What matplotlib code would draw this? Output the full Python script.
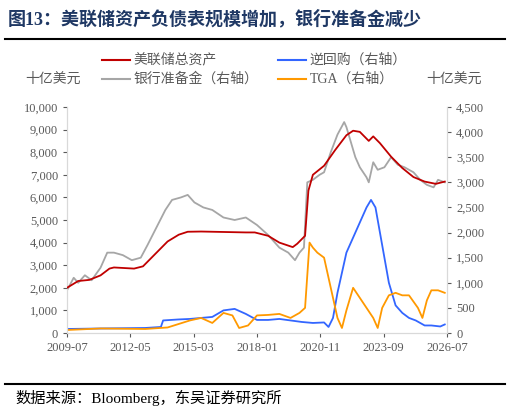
import matplotlib
matplotlib.use("Agg")
import matplotlib.pyplot as plt
from matplotlib.lines import Line2D

plt.rcParams['font.family'] = ['Liberation Serif', 'Noto Sans CJK SC']

# decimal years
fed_t = [2009.5,2010.0,2010.5,2011.0,2011.4,2011.6,2012.5,2012.9,2013.3,2013.7,2014.0,2014.5,2014.9,2015.5,2016.5,2017.5,2017.9,2018.5,2019.0,2019.6,2019.8,2020.0,2020.15,2020.3,2020.5,2021.0,2021.5,2022.0,2022.3,2022.6,2023.0,2023.2,2023.5,2024.0,2024.5,2025.0,2025.5,2026.0,2026.4]
fed_v = [2000,2300,2350,2550,2850,2900,2850,2950,3350,3750,4050,4350,4480,4490,4470,4450,4450,4300,4000,3800,3950,4150,4300,6300,7000,7400,8100,8750,8950,8900,8500,8700,8400,7800,7300,6900,6700,6600,6700]

res_t = [2009.5,2009.8,2010.0,2010.3,2010.6,2011.0,2011.3,2011.6,2012.0,2012.4,2012.8,2013.1,2013.5,2013.9,2014.2,2014.6,2014.9,2015.2,2015.6,2016.0,2016.5,2017.0,2017.5,2018.0,2018.5,2019.0,2019.4,2019.7,2019.9,2020.1,2020.25,2020.5,2020.8,2021.0,2021.3,2021.6,2021.9,2022.0,2022.2,2022.4,2022.6,2022.9,2023.0,2023.2,2023.4,2023.7,2024.0,2024.3,2024.6,2025.0,2025.3,2025.6,2025.9,2026.1,2026.4]
res_v = [850,1100,1000,1150,1050,1300,1600,1600,1550,1450,1500,1750,2100,2450,2650,2700,2750,2600,2500,2450,2300,2250,2300,2150,1950,1700,1600,1450,1600,1700,3000,3050,3150,3200,3600,3950,4200,4100,3800,3500,3300,3100,3000,3400,3250,3300,3500,3350,3300,3200,3050,2950,2900,3050,3000]

rrp_t = [2009.5,2011.0,2013.0,2013.7,2013.8,2014.5,2015.0,2015.5,2016.0,2016.5,2017.0,2017.5,2018.0,2018.5,2019.0,2019.5,2020.0,2020.5,2021.0,2021.2,2021.4,2021.6,2021.8,2022.0,2022.3,2022.6,2022.9,2023.1,2023.3,2023.5,2023.7,2023.9,2024.2,2024.5,2024.8,2025.1,2025.5,2025.8,2026.2,2026.4]
rrp_v = [80,90,100,120,250,270,280,300,320,450,480,380,260,260,280,250,220,200,210,120,300,800,1200,1600,1900,2200,2500,2650,2500,2000,1500,1000,550,400,300,250,150,150,130,170]

tga_t = [2009.5,2011.0,2013.0,2014.0,2015.0,2015.5,2016.0,2016.5,2016.9,2017.2,2017.6,2018.0,2018.5,2019.0,2019.5,2019.9,2020.15,2020.35,2020.5,2020.7,2021.0,2021.3,2021.6,2021.8,2022.0,2022.3,2022.6,2022.9,2023.2,2023.4,2023.6,2023.9,2024.2,2024.5,2024.8,2025.2,2025.4,2025.6,2025.8,2026.1,2026.4]
tga_v = [60,90,80,110,250,300,200,400,350,100,150,350,360,380,300,400,500,1800,1700,1600,1500,900,300,100,450,900,700,500,300,100,500,750,800,750,750,500,300,650,850,850,800]

xticks = [2009.5, 2012+4/12, 2015+2/12, 2018.0, 2020+10/12, 2023+8/12, 2026.5]
xlabels = ['2009-07','2012-05','2015-03','2018-01','2020-11','2023-09','2026-07']

fig = plt.figure(figsize=(5.1,4.15), dpi=100)
ax = fig.add_axes([67/510, 1-333/415, 380/510, 226/415])
ax2 = ax.twinx()
ax.plot(fed_t, fed_v, color='#c00000', lw=1.3, zorder=3)
ax2.plot(res_t, res_v, color='#a6a6a6', lw=1.3)
ax2.plot(rrp_t, rrp_v, color='#3366ff', lw=1.3)
ax2.plot(tga_t, tga_v, color='#ff9900', lw=1.3)
ax.set_zorder(ax2.get_zorder()+1); ax.patch.set_visible(False)
ax.set_xlim(2009.5, 2026.5); ax.set_ylim(0,10000); ax2.set_ylim(0,4500)
ax.set_yticks(range(0,10001,1000)); ax.set_yticklabels([f'{v:,}' for v in range(0,10001,1000)])
ax2.set_yticks(range(0,4501,500)); ax2.set_yticklabels([f'{v:,}' for v in range(0,4501,500)])
ax.set_xticks(xticks); ax.set_xticklabels(xlabels)
for a in (ax, ax2):
    for s in a.spines.values(): s.set_color('#d9d9d9')
    a.spines['top'].set_visible(False)
    a.tick_params(colors='#595959', labelsize=9, length=3)
    for t in a.get_xticklabels()+a.get_yticklabels(): t.set_color('#595959')

fig.text(0.015, 0.955, '图13：美联储资产负债表规模增加，银行准备金减少', fontsize=13, fontweight='bold', color='#1f3864', va='center')
fig.add_artist(Line2D([0.01,0.99],[0.905,0.905], color='black', lw=1.5))
fig.add_artist(Line2D([0.01,0.99],[0.075,0.075], color='black', lw=1.5))
fig.text(0.03, 0.04, '数据来源：Bloomberg，东吴证券研究所', fontsize=11, va='center')
fig.text(0.05, 0.81, '十亿美元', fontsize=10, color='#595959', va='center')
fig.text(0.835, 0.81, '十亿美元', fontsize=10, color='#595959', va='center')
leg = [('美联储总资产','#c00000',0.2,0.856),('逆回购（右轴）','#3366ff',0.545,0.856),
       ('银行准备金（右轴）','#a6a6a6',0.2,0.81),('TGA（右轴）','#ff9900',0.545,0.81)]
for txt,c,x,y in leg:
    fig.add_artist(Line2D([x,x+0.055],[y,y], color=c, lw=1.5))
    fig.text(x+0.062, y, txt, fontsize=10, color='#595959', va='center')
fig.savefig('out.png', dpi=100)
